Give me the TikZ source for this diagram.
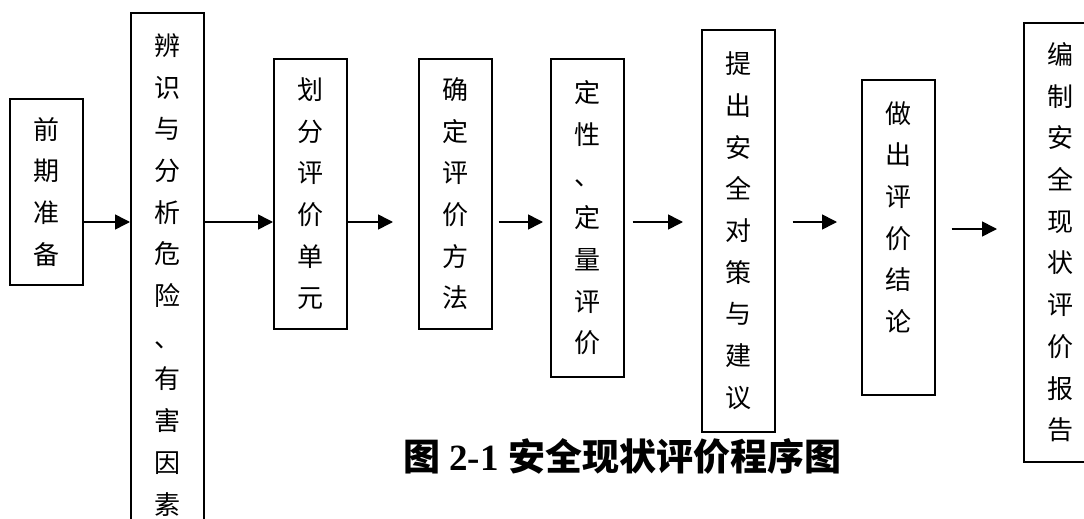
\documentclass[tikz,border=0pt]{standalone}
\usepackage{fontspec}
\setmainfont{Liberation Serif}
\newfontfamily\cjk{Noto Sans CJK SC}
\usetikzlibrary{arrows.meta}
\tikzset{
  box/.style={draw, line width=1.6pt, anchor=north west, inner sep=0pt,
    minimum width=73pt, align=center,
    font=\cjk\fontsize{26}{41.7}\selectfont},
  arr/.style={line width=1.6pt, -{Triangle[length=15pt,width=15pt]}},
}
\begin{document}
\begin{tikzpicture}[x=1pt,y=-1pt]
\clip (0,0) rectangle (1084,519);
\fill[white] (0,0) rectangle (1084,519);
\node[box, minimum height=186pt] (b1) at (9,98) {前\\期\\准\\备};
\node[box, minimum height=524pt] (b2) at (130,12) {辨\\识\\与\\分\\析\\危\\险\\、\\有\\害\\因\\素};
\node[box, minimum height=270pt] (b3) at (273,58) {划\\分\\评\\价\\单\\元};
\node[box, minimum height=270pt] (b4) at (418,58) {确\\定\\评\\价\\方\\法};
\node[box, minimum height=318pt] (b5) at (550,58) {定\\性\\、\\定\\量\\评\\价};
\node[box, minimum height=402pt] (b6) at (701,29) {提\\出\\安\\全\\对\\策\\与\\建\\议};
\node[box, minimum height=315pt] (b7) at (861,79) {做\\出\\评\\价\\结\\论\\\mbox{}};
\node[box, minimum height=439pt] (b8) at (1023,22) {编\\制\\安\\全\\现\\状\\评\\价\\报\\告};
\coordinate (row) at (0,222);
\coordinate (row2) at (0,229);
\draw[arr] (b1.east |- row) -- (b2.west |- row);
\draw[arr] (b2.east |- row) -- (b3.west |- row);
\draw[arr, shorten >=25pt] (b3.east |- row) -- (b4.west |- row);
\draw[arr, shorten <=6pt, shorten >=7pt] (b4.east |- row) -- (b5.west |- row);
\draw[arr, shorten <=8pt, shorten >=18pt] (b5.east |- row) -- (b6.west |- row);
\draw[arr, shorten <=17pt, shorten >=24pt] (b6.east |- row) -- (b7.west |- row);
\draw[arr, shorten <=16pt, shorten >=26pt] (b7.east |- row2) -- (b8.west |- row2);
\node[anchor=base west, inner sep=0pt, font=\fontsize{37}{40}\selectfont] (cap) at (403,470)
  {{\cjk\bfseries 图} \textbf{2-1} {\cjk\bfseries 安全现状评价程序图}};
\end{tikzpicture}
\end{document}
